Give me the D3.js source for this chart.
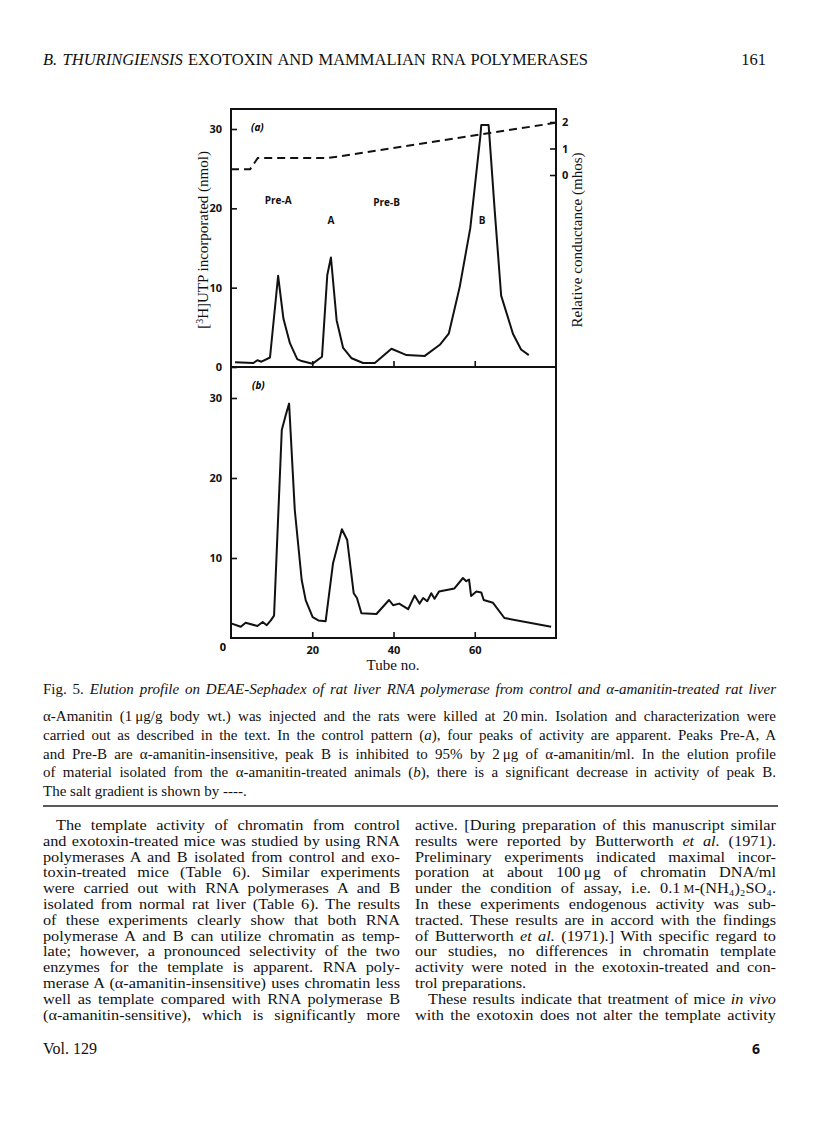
<!DOCTYPE html>
<html>
<head>
<meta charset="utf-8">
<script src="https://cdn.jsdelivr.net/npm/d3@7"></script>
<style>
  body { margin: 0; background: #fff; }
  svg { display: block; }
</style>
</head>
<body>
<div id="page"></div>
<script>
// ---- chart data ----
// panel (a): control pattern
const tubeA = [1, 5.5, 6.5, 7.5, 9.6, 11.6, 12.9, 14.5, 16.3, 17.4, 20.1, 22.4, 23.7, 24.6, 26, 27.6, 29.7, 32.5, 35.4, 39.5, 43.2, 47.7, 51.4, 53.6, 56.3, 58.9, 61.4, 61.6, 63.4, 63.6, 64.9, 66.5, 69.4, 71.4, 73.3];
const uptakeA = [0.6, 0.5, 0.85, 0.67, 1.2, 11.5, 6.1, 3.0, 1.0, 0.75, 0.42, 1.3, 11.6, 13.8, 5.9, 2.4, 1.1, 0.5, 0.5, 2.3, 1.5, 1.4, 2.8, 4.2, 10.1, 17.5, 29.2, 30.5, 30.5, 29.2, 19.8, 9.0, 4.2, 2.2, 1.5];
// panel (b): alpha-amanitin treated
const tubeB = [0.2, 2.4, 3.6, 6.5, 7.8, 8.8, 9.8, 10.6, 12.5, 13.5, 14.3, 15.7, 17.4, 18.4, 20.1, 21.5, 23.3, 25.1, 27.3, 28.6, 30.2, 31, 32.1, 35.8, 38.9, 39.9, 41.4, 43.6, 45.2, 46.4, 47.3, 48.3, 49.3, 50.1, 51.2, 55, 57.1, 57.9, 58.6, 59.1, 60.4, 61.6, 62.2, 64.5, 67.3, 78.8];
const uptakeB = [1.8, 1.4, 1.9, 1.5, 2.0, 1.6, 2.2, 2.8, 26, 27.9, 29.3, 16, 7.25, 4.7, 2.6, 2.2, 2.1, 9.3, 13.6, 12.25, 5.6, 5.0, 3.1, 3.0, 4.75, 4.1, 4.3, 3.6, 5.3, 4.3, 5.0, 4.6, 5.6, 4.9, 5.8, 6.2, 7.5, 7.1, 7.3, 5.25, 5.8, 5.7, 4.75, 4.4, 2.5, 1.4];
// salt gradient (relative conductance)
const gradTube = [0, 4.7, 6.6, 23.8, 30, 80];
const gradCond = [0.22, 0.22, 0.64, 0.64, 0.78, 1.97];

const uptakeTicks = [10, 20, 30];
const tubeTicks = [20, 40, 60];
const condTicks = [0, 1, 2];

const peakNames = ["Pre-A", "A", "Pre-B", "B"];
const peakTube = [11.6, 24.6, 38.3, 61.8];
const peakLevel = [21, 18.5, 20.8, 18.5];

// ---- page text ----
const leftCol = [
  [["The template activity of chromatin from control"]],
  [["and exotoxin-treated mice was studied by using RNA"]],
  [["polymerases A and B isolated from control and exo-"]],
  [["toxin-treated mice (Table 6). Similar experiments"]],
  [["were carried out with RNA polymerases A and B"]],
  [["isolated from normal rat liver (Table 6). The results"]],
  [["of these experiments clearly show that both RNA"]],
  [["polymerase A and B can utilize chromatin as temp-"]],
  [["late; however, a pronounced selectivity of the two"]],
  [["enzymes for the template is apparent. RNA poly-"]],
  [["merase A (\u03b1-amanitin-insensitive) uses chromatin less"]],
  [["well as template compared with RNA polymerase B"]],
  [["(\u03b1-amanitin-sensitive), which is significantly more"]]
];
const rightCol = [
  [["active. [During preparation of this manuscript similar"]],
  [["results were reported by Butterworth "], ["et al.", "i"], [" (1971)."]],
  [["Preliminary experiments indicated maximal incor-"]],
  [["poration at about 100\u2009\u03bcg of chromatin DNA/ml"]],
  [["under the condition of assay, i.e. 0.1\u2009"], ["M", "sc"], ["-(NH\u2084)\u2082SO\u2084."]],
  [["In these experiments endogenous activity was sub-"]],
  [["tracted. These results are in accord with the findings"]],
  [["of Butterworth "], ["et al.", "i"], [" (1971).] With specific regard to"]],
  [["our studies, no differences in chromatin template"]],
  [["activity were noted in the exotoxin-treated and con-"]],
  [["trol preparations."]],
  [["These results indicate that treatment of mice "], ["in vivo", "i"]],
  [["with the exotoxin does not alter the template activity"]]
];
const captionTitle = [["Fig. 5. "], ["Elution profile on DEAE-Sephadex of rat liver RNA polymerase from control and \u03b1-amanitin-treated rat liver", "i"]];
const captionLines = [
  [["\u03b1-Amanitin (1\u2009\u03bcg/g body wt.) was injected and the rats were killed at 20\u2009min. Isolation and characterization were"]],
  [["carried out as described in the text. In the control pattern ("], ["a", "i"], ["), four peaks of activity are apparent. Peaks Pre-A, A"]],
  [["and Pre-B are \u03b1-amanitin-insensitive, peak B is inhibited to 95% by 2\u2009\u03bcg of \u03b1-amanitin/ml. In the elution profile"]],
  [["of material isolated from the \u03b1-amanitin-treated animals ("], ["b", "i"], ["), there is a significant decrease in activity of peak B."]],
  [["The salt gradient is shown by ----."]]
];

// ---- layout ----
const W = 816, H = 1136;
const serif = "'Liberation Serif', 'Times New Roman', serif";
const sans = "'Open Sans', 'DejaVu Sans', sans-serif";

const svg = d3.select("#page").append("svg")
  .attr("width", W)
  .attr("height", H)
  .style("background", "#fff");

// write one line of text made of styled segments, justified to width if given.
// widen stretches the glyphs a little, the scan's type is broader than Liberation.
function textLine(x, y, size, segs, width, anchor, widen) {
  const k = widen || 1;
  const t = svg.append("text")
    .attr("x", x)
    .attr("y", y)
    .attr("font-family", serif)
    .attr("font-size", size)
    .attr("fill", "#111");
  if (anchor) t.attr("text-anchor", anchor);
  if (k !== 1) t.attr("transform", `translate(${x},0) scale(${k},1) translate(${-x},0)`);
  segs.forEach(([s, st]) => {
    const sp = t.append("tspan").text(s);
    if (st === "i") sp.attr("font-style", "italic");
    if (st === "sc") sp.attr("font-size", size * 0.75);
  });
  if (width) {
    const target = width / k;
    const natural = t.node().getComputedTextLength();
    const spaces = (t.text().match(/ /g) || []).length;
    if (natural < target && spaces > 0) {
      // spread the words, like a justified printed line
      t.style("word-spacing", ((target - natural) / spaces) + "px");
      const now = t.node().getComputedTextLength();
      if (Math.abs(now - target) > 3) {
        t.style("word-spacing", null)
          .attr("textLength", target).attr("lengthAdjust", "spacing");
      }
    } else {
      t.attr("textLength", target).attr("lengthAdjust", "spacingAndGlyphs");
    }
  }
  return t;
}

// running head
textLine(43, 65, 16.5, [["B. THURINGIENSIS", "i"], [" EXOTOXIN AND MAMMALIAN RNA POLYMERASES"]], 545);
textLine(766, 65, 16.5, [["161"]], null, "end");

// ---- chart ----
const x = d3.scaleLinear().domain([0, 80]).range([231, 556]);
const yA = d3.scaleLinear().domain([0, 30]).range([367, 129]);
const yB = d3.scaleLinear().domain([0, 30]).range([638, 398]);
const yCond = d3.scaleLinear().domain([0, 2]).range([175, 122]);

const chart = svg.append("g");

// frames
chart.append("rect")
  .attr("x", x(0)).attr("y", 109)
  .attr("width", x(80) - x(0)).attr("height", yA(0) - 109)
  .attr("fill", "none").attr("stroke", "#111").attr("stroke-width", 2);
chart.append("rect")
  .attr("x", x(0)).attr("y", yA(0))
  .attr("width", x(80) - x(0)).attr("height", yB(0) - yA(0))
  .attr("fill", "none").attr("stroke", "#111").attr("stroke-width", 2);

function styleAxis(g) {
  g.select(".domain").remove();
  g.selectAll("line").attr("stroke", "#111").attr("stroke-width", 1.6);
  g.selectAll("text")
    .attr("font-family", sans)
    .attr("font-weight", "bold")
    .attr("font-size", 11)
    .attr("fill", "#111");
}

// left axes (ticks point inward)
chart.append("g")
  .attr("transform", `translate(${x(0)},0)`)
  .call(d3.axisLeft(yA).tickValues([0].concat(uptakeTicks)).tickSize(-6).tickPadding(9).tickFormat(d3.format("d")))
  .call(styleAxis);
chart.append("g")
  .attr("transform", `translate(${x(0)},0)`)
  .call(d3.axisLeft(yB).tickValues(uptakeTicks).tickSize(-6).tickPadding(9).tickFormat(d3.format("d")))
  .call(styleAxis);

// bottom ticks of (a), no labels
chart.append("g")
  .attr("transform", `translate(0,${yA(0)})`)
  .call(d3.axisBottom(x).tickValues(tubeTicks).tickSize(-6).tickFormat(""))
  .call(styleAxis);

// bottom axis of (b)
chart.append("g")
  .attr("transform", `translate(0,${yB(0)})`)
  .call(d3.axisBottom(x).tickValues(tubeTicks).tickSize(-6).tickPadding(8).tickFormat(d3.format("d")))
  .call(styleAxis);
chart.append("text")
  .attr("x", x(0) - 8).attr("y", yB(0) + 13)
  .attr("text-anchor", "middle")
  .attr("font-family", sans).attr("font-weight", "bold").attr("font-size", 11)
  .text("0");

// right axis for conductance
chart.append("g")
  .attr("transform", `translate(${x(80)},0)`)
  .call(d3.axisRight(yCond).tickValues(condTicks).tickSize(-6).tickPadding(6).tickFormat(d3.format("d")))
  .call(styleAxis);

// curves
const lineA = d3.line().x((d, i) => x(tubeA[i])).y(d => yA(d));
const lineB = d3.line().x((d, i) => x(tubeB[i])).y(d => yB(d));
const lineG = d3.line().x((d, i) => x(gradTube[i])).y(d => yCond(d));

chart.append("path")
  .datum(uptakeA)
  .attr("d", lineA)
  .attr("fill", "none").attr("stroke", "#111").attr("stroke-width", 2)
  .attr("stroke-linejoin", "round");
chart.append("path")
  .datum(uptakeB)
  .attr("d", lineB)
  .attr("fill", "none").attr("stroke", "#111").attr("stroke-width", 2)
  .attr("stroke-linejoin", "round");
chart.append("path")
  .datum(gradCond)
  .attr("d", lineG)
  .attr("fill", "none").attr("stroke", "#111").attr("stroke-width", 2)
  .attr("stroke-dasharray", "8,5");

// peak names
chart.selectAll(".peak")
  .data(peakNames)
  .join("text")
  .attr("class", "peak")
  .attr("x", (d, i) => x(peakTube[i]))
  .attr("y", (d, i) => yA(peakLevel[i]) + 4)
  .attr("text-anchor", "middle")
  .attr("font-family", sans).attr("font-weight", "bold").attr("font-size", 10)
  .attr("fill", "#111")
  .text(d => d);

// panel tags
chart.append("text")
  .attr("x", 251).attr("y", 131)
  .attr("font-family", sans).attr("font-weight", "bold").attr("font-style", "italic").attr("font-size", 10)
  .text("(a)");
chart.append("text")
  .attr("x", 252).attr("y", 389)
  .attr("font-family", sans).attr("font-weight", "bold").attr("font-style", "italic").attr("font-size", 10)
  .text("(b)");

// axis titles
const yTitle = chart.append("text")
  .attr("transform", "translate(208,240) rotate(-90)")
  .attr("text-anchor", "middle")
  .attr("font-family", serif).attr("font-size", 15).attr("fill", "#111");
yTitle.append("tspan").text("[");
yTitle.append("tspan").attr("font-size", 10).attr("baseline-shift", "super").text("3");
yTitle.append("tspan").text("H]UTP incorporated (nmol)");

chart.append("text")
  .attr("transform", "translate(582,240) rotate(-90)")
  .attr("text-anchor", "middle")
  .attr("font-family", serif).attr("font-size", 15).attr("fill", "#111")
  .text("Relative conductance (mhos)");

chart.append("text")
  .attr("x", 393).attr("y", 670)
  .attr("text-anchor", "middle")
  .attr("font-family", serif).attr("font-size", 15).attr("fill", "#111")
  .text("Tube no.");

// ---- caption ----
textLine(43, 694, 15, captionTitle, 733);
captionLines.forEach((segs, i) => {
  const last = i === captionLines.length - 1;
  textLine(43, 721 + i * 18.8, 15, segs, last ? null : 733);
});

// rule
svg.append("line")
  .attr("x1", 43).attr("x2", 778)
  .attr("y1", 806).attr("y2", 806)
  .attr("stroke", "#222").attr("stroke-width", 1.5);

// ---- body columns ----
const lh = 15.8;
leftCol.forEach((segs, i) => {
  const indent = i === 0 ? 13 : 0;
  textLine(43 + indent, 830 + i * lh, 15.5, segs, 357 - indent, null, 1.05);
});
rightCol.forEach((segs, i) => {
  const indent = i === 11 ? 13 : 0;
  const ragged = i === 10;
  textLine(415 + indent, 830 + i * lh, 15.5, segs, ragged ? null : 361 - indent, null, 1.05);
});

textLine(43, 1054, 16, [["Vol. 129"]]);
svg.append("text")
  .attr("x", 752).attr("y", 1054)
  .attr("font-family", sans).attr("font-weight", "bold").attr("font-size", 14)
  .attr("fill", "#111")
  .text("6");
</script>
</body>
</html>
